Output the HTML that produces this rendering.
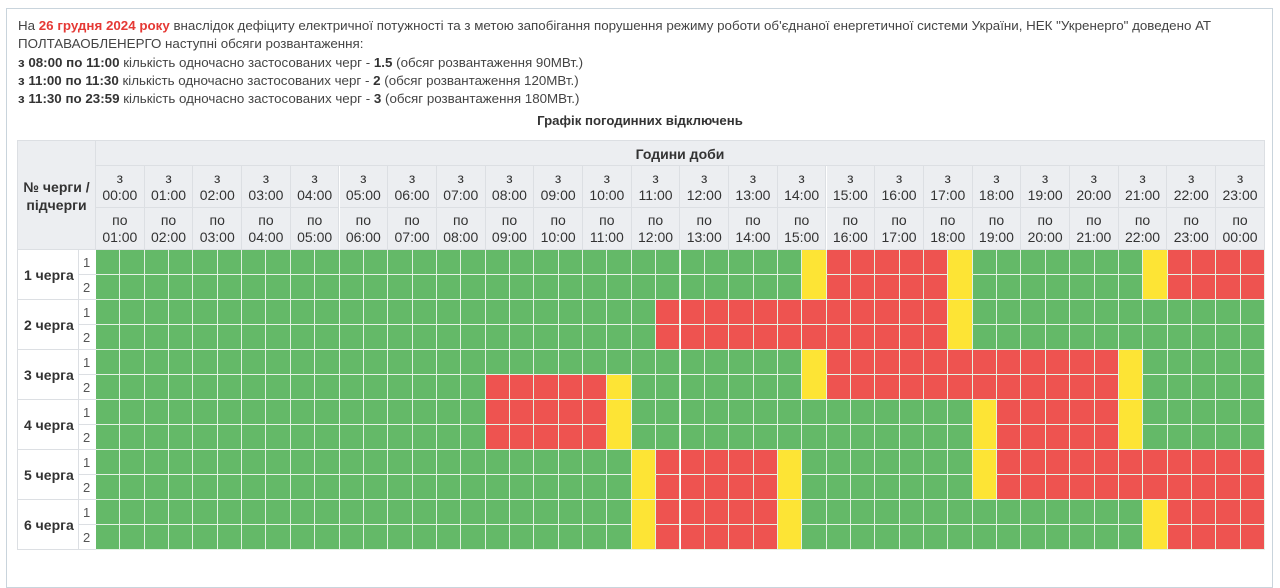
<!DOCTYPE html>
<html><head><meta charset="utf-8"><style>
*{margin:0;padding:0;box-sizing:border-box}
body{width:1280px;height:570px;background:#fff;font-family:"Liberation Sans","DejaVu Sans",sans-serif;color:#333;position:relative;overflow:hidden}
#frame{position:absolute;left:6px;top:8px;width:1267px;height:580px;border:1px solid #c9d4dc}
.t{position:absolute;left:18px;font-size:13.35px;white-space:nowrap;color:#444}
.r{color:#e53935;font-weight:bold}
b{color:#333}
.ttl{position:absolute;left:0;width:1280px;top:113px;text-align:center;font-weight:bold;font-size:13.2px;color:#333}
.h{position:absolute;background:#eceef1;border-right:1px solid #dcdfe3;border-bottom:1px solid #dcdfe3;text-align:center;font-size:14px;color:#333}
.c{position:absolute;border-right:1px solid #e3f1e3;border-bottom:1px solid #e3f1e3}
.lab{position:absolute;background:#fff;border-bottom:1px solid #dcdfe3;border-right:1px solid #dcdfe3;font-weight:bold;font-size:14px;color:#333}
.sub{position:absolute;background:#fff;border-bottom:1px solid #dcdfe3;font-size:13px;color:#555;padding-left:4px}
</style></head><body>
<div id="frame"></div>
<div class="t" style="top:18px">На <span class="r">26 грудня 2024 року</span> внаслідок дефіциту електричної потужності та з метою запобігання порушення режиму роботи об'єднаної енергетичної системи України, НЕК "Укренерго" доведено АТ</div>
<div class="t" style="top:36px">ПОЛТАВАОБЛЕНЕРГО наступні обсяги розвантаження:</div>
<div class="t" style="top:55px"><b>з 08:00 по 11:00</b> кількість одночасно застосованих черг - <b>1.5</b> (обсяг розвантаження 90МВт.)</div>
<div class="t" style="top:73px"><b>з 11:00 по 11:30</b> кількість одночасно застосованих черг - <b>2</b> (обсяг розвантаження 120МВт.)</div>
<div class="t" style="top:91px"><b>з 11:30 по 23:59</b> кількість одночасно застосованих черг - <b>3</b> (обсяг розвантаження 180МВт.)</div>
<div class="ttl">Графік погодинних відключень</div>

<div class="h" style="left:17px;top:140px;width:79px;height:110px;border-left:1px solid #dcdfe3;border-top:1px solid #dcdfe3;font-weight:bold;padding-top:37px;line-height:18px">№ черги /<br>підчерги</div>
<div class="h" style="left:96px;top:140px;width:1169px;height:26px;border-top:1px solid #dcdfe3;font-weight:bold;line-height:26px">Години доби</div>
<div id="hdr">
<div class="h" style="left:96.0px;top:166px;width:48.7px;height:42px;padding-top:4px;line-height:17px">з<br>00:00</div><div class="h" style="left:144.7px;top:166px;width:48.7px;height:42px;padding-top:4px;line-height:17px">з<br>01:00</div><div class="h" style="left:193.4px;top:166px;width:48.7px;height:42px;padding-top:4px;line-height:17px">з<br>02:00</div><div class="h" style="left:242.1px;top:166px;width:48.7px;height:42px;padding-top:4px;line-height:17px">з<br>03:00</div><div class="h" style="left:290.8px;top:166px;width:48.7px;height:42px;padding-top:4px;line-height:17px">з<br>04:00</div><div class="h" style="left:339.5px;top:166px;width:48.7px;height:42px;padding-top:4px;line-height:17px">з<br>05:00</div><div class="h" style="left:388.2px;top:166px;width:48.7px;height:42px;padding-top:4px;line-height:17px">з<br>06:00</div><div class="h" style="left:436.9px;top:166px;width:48.7px;height:42px;padding-top:4px;line-height:17px">з<br>07:00</div><div class="h" style="left:485.6px;top:166px;width:48.7px;height:42px;padding-top:4px;line-height:17px">з<br>08:00</div><div class="h" style="left:534.3px;top:166px;width:48.7px;height:42px;padding-top:4px;line-height:17px">з<br>09:00</div><div class="h" style="left:583.0px;top:166px;width:48.7px;height:42px;padding-top:4px;line-height:17px">з<br>10:00</div><div class="h" style="left:631.7px;top:166px;width:48.7px;height:42px;padding-top:4px;line-height:17px">з<br>11:00</div><div class="h" style="left:680.4px;top:166px;width:48.7px;height:42px;padding-top:4px;line-height:17px">з<br>12:00</div><div class="h" style="left:729.1px;top:166px;width:48.7px;height:42px;padding-top:4px;line-height:17px">з<br>13:00</div><div class="h" style="left:777.8px;top:166px;width:48.7px;height:42px;padding-top:4px;line-height:17px">з<br>14:00</div><div class="h" style="left:826.5px;top:166px;width:48.7px;height:42px;padding-top:4px;line-height:17px">з<br>15:00</div><div class="h" style="left:875.2px;top:166px;width:48.7px;height:42px;padding-top:4px;line-height:17px">з<br>16:00</div><div class="h" style="left:923.9px;top:166px;width:48.7px;height:42px;padding-top:4px;line-height:17px">з<br>17:00</div><div class="h" style="left:972.6px;top:166px;width:48.7px;height:42px;padding-top:4px;line-height:17px">з<br>18:00</div><div class="h" style="left:1021.3px;top:166px;width:48.7px;height:42px;padding-top:4px;line-height:17px">з<br>19:00</div><div class="h" style="left:1070.0px;top:166px;width:48.7px;height:42px;padding-top:4px;line-height:17px">з<br>20:00</div><div class="h" style="left:1118.7px;top:166px;width:48.7px;height:42px;padding-top:4px;line-height:17px">з<br>21:00</div><div class="h" style="left:1167.4px;top:166px;width:48.7px;height:42px;padding-top:4px;line-height:17px">з<br>22:00</div><div class="h" style="left:1216.1px;top:166px;width:48.9px;height:42px;padding-top:4px;line-height:17px">з<br>23:00</div>
<div class="h" style="left:96.0px;top:208px;width:48.7px;height:42px;padding-top:4px;line-height:17px">по<br>01:00</div><div class="h" style="left:144.7px;top:208px;width:48.7px;height:42px;padding-top:4px;line-height:17px">по<br>02:00</div><div class="h" style="left:193.4px;top:208px;width:48.7px;height:42px;padding-top:4px;line-height:17px">по<br>03:00</div><div class="h" style="left:242.1px;top:208px;width:48.7px;height:42px;padding-top:4px;line-height:17px">по<br>04:00</div><div class="h" style="left:290.8px;top:208px;width:48.7px;height:42px;padding-top:4px;line-height:17px">по<br>05:00</div><div class="h" style="left:339.5px;top:208px;width:48.7px;height:42px;padding-top:4px;line-height:17px">по<br>06:00</div><div class="h" style="left:388.2px;top:208px;width:48.7px;height:42px;padding-top:4px;line-height:17px">по<br>07:00</div><div class="h" style="left:436.9px;top:208px;width:48.7px;height:42px;padding-top:4px;line-height:17px">по<br>08:00</div><div class="h" style="left:485.6px;top:208px;width:48.7px;height:42px;padding-top:4px;line-height:17px">по<br>09:00</div><div class="h" style="left:534.3px;top:208px;width:48.7px;height:42px;padding-top:4px;line-height:17px">по<br>10:00</div><div class="h" style="left:583.0px;top:208px;width:48.7px;height:42px;padding-top:4px;line-height:17px">по<br>11:00</div><div class="h" style="left:631.7px;top:208px;width:48.7px;height:42px;padding-top:4px;line-height:17px">по<br>12:00</div><div class="h" style="left:680.4px;top:208px;width:48.7px;height:42px;padding-top:4px;line-height:17px">по<br>13:00</div><div class="h" style="left:729.1px;top:208px;width:48.7px;height:42px;padding-top:4px;line-height:17px">по<br>14:00</div><div class="h" style="left:777.8px;top:208px;width:48.7px;height:42px;padding-top:4px;line-height:17px">по<br>15:00</div><div class="h" style="left:826.5px;top:208px;width:48.7px;height:42px;padding-top:4px;line-height:17px">по<br>16:00</div><div class="h" style="left:875.2px;top:208px;width:48.7px;height:42px;padding-top:4px;line-height:17px">по<br>17:00</div><div class="h" style="left:923.9px;top:208px;width:48.7px;height:42px;padding-top:4px;line-height:17px">по<br>18:00</div><div class="h" style="left:972.6px;top:208px;width:48.7px;height:42px;padding-top:4px;line-height:17px">по<br>19:00</div><div class="h" style="left:1021.3px;top:208px;width:48.7px;height:42px;padding-top:4px;line-height:17px">по<br>20:00</div><div class="h" style="left:1070.0px;top:208px;width:48.7px;height:42px;padding-top:4px;line-height:17px">по<br>21:00</div><div class="h" style="left:1118.7px;top:208px;width:48.7px;height:42px;padding-top:4px;line-height:17px">по<br>22:00</div><div class="h" style="left:1167.4px;top:208px;width:48.7px;height:42px;padding-top:4px;line-height:17px">по<br>23:00</div><div class="h" style="left:1216.1px;top:208px;width:48.9px;height:42px;padding-top:4px;line-height:17px">по<br>00:00</div>
</div>

<div class="lab" style="left:17px;top:250px;width:62px;height:50px;line-height:50px;padding-left:6px;border-left:1px solid #dcdfe3">1 черга</div>
<div class="lab" style="left:17px;top:300px;width:62px;height:50px;line-height:50px;padding-left:6px;border-left:1px solid #dcdfe3">2 черга</div>
<div class="lab" style="left:17px;top:350px;width:62px;height:50px;line-height:50px;padding-left:6px;border-left:1px solid #dcdfe3">3 черга</div>
<div class="lab" style="left:17px;top:400px;width:62px;height:50px;line-height:50px;padding-left:6px;border-left:1px solid #dcdfe3">4 черга</div>
<div class="lab" style="left:17px;top:450px;width:62px;height:50px;line-height:50px;padding-left:6px;border-left:1px solid #dcdfe3">5 черга</div>
<div class="lab" style="left:17px;top:500px;width:62px;height:50px;line-height:50px;padding-left:6px;border-left:1px solid #dcdfe3">6 черга</div>
<div class="sub" style="left:79px;top:250px;width:17px;height:25px;line-height:25px">1</div>
<div class="sub" style="left:79px;top:275px;width:17px;height:25px;line-height:25px">2</div>
<div class="sub" style="left:79px;top:300px;width:17px;height:25px;line-height:25px">1</div>
<div class="sub" style="left:79px;top:325px;width:17px;height:25px;line-height:25px">2</div>
<div class="sub" style="left:79px;top:350px;width:17px;height:25px;line-height:25px">1</div>
<div class="sub" style="left:79px;top:375px;width:17px;height:25px;line-height:25px">2</div>
<div class="sub" style="left:79px;top:400px;width:17px;height:25px;line-height:25px">1</div>
<div class="sub" style="left:79px;top:425px;width:17px;height:25px;line-height:25px">2</div>
<div class="sub" style="left:79px;top:450px;width:17px;height:25px;line-height:25px">1</div>
<div class="sub" style="left:79px;top:475px;width:17px;height:25px;line-height:25px">2</div>
<div class="sub" style="left:79px;top:500px;width:17px;height:25px;line-height:25px">1</div>
<div class="sub" style="left:79px;top:525px;width:17px;height:25px;line-height:25px">2</div>
<div id="grid"></div>
<script>
function row(spec){var a=[];for(var i=0;i<48;i++)a.push('g');spec.forEach(function(s){for(var i=s[1];i<=s[2];i++)a[i]=s[0];});return a;}
var R=[
row([['y',29,29],['r',30,34],['y',35,35],['y',43,43],['r',44,47]]),
row([['y',29,29],['r',30,34],['y',35,35],['y',43,43],['r',44,47]]),
row([['r',23,34],['y',35,35]]),
row([['r',23,34],['y',35,35]]),
row([['y',29,29],['r',30,41],['y',42,42]]),
row([['r',16,20],['y',21,21],['y',29,29],['r',30,41],['y',42,42]]),
row([['r',16,20],['y',21,21],['y',36,36],['r',37,41],['y',42,42]]),
row([['r',16,20],['y',21,21],['y',36,36],['r',37,41],['y',42,42]]),
row([['y',22,22],['r',23,27],['y',28,28],['y',36,36],['r',37,47]]),
row([['y',22,22],['r',23,27],['y',28,28],['y',36,36],['r',37,47]]),
row([['y',22,22],['r',23,27],['y',28,28],['y',43,43],['r',44,47]]),
row([['y',22,22],['r',23,27],['y',28,28],['y',43,43],['r',44,47]])
];
var col={g:'#64b968',r:'#ee5350',y:'#fde435'};
var h='',w=1169/48;
for(var r=0;r<12;r++)for(var i=0;i<48;i++){
var c=R[r][i],x=96+i*w;
var b=(c=='y')?'border-bottom-color:'+col.y+';':'';
if(c=='y'&&r%2==1)b='';
h+='<div class="c" style="left:'+x.toFixed(2)+'px;top:'+(250+r*25)+'px;width:'+w.toFixed(2)+'px;height:25px;background:'+col[c]+';'+b+'"></div>';}
document.getElementById('grid').innerHTML=h;
</script>
</body></html>
